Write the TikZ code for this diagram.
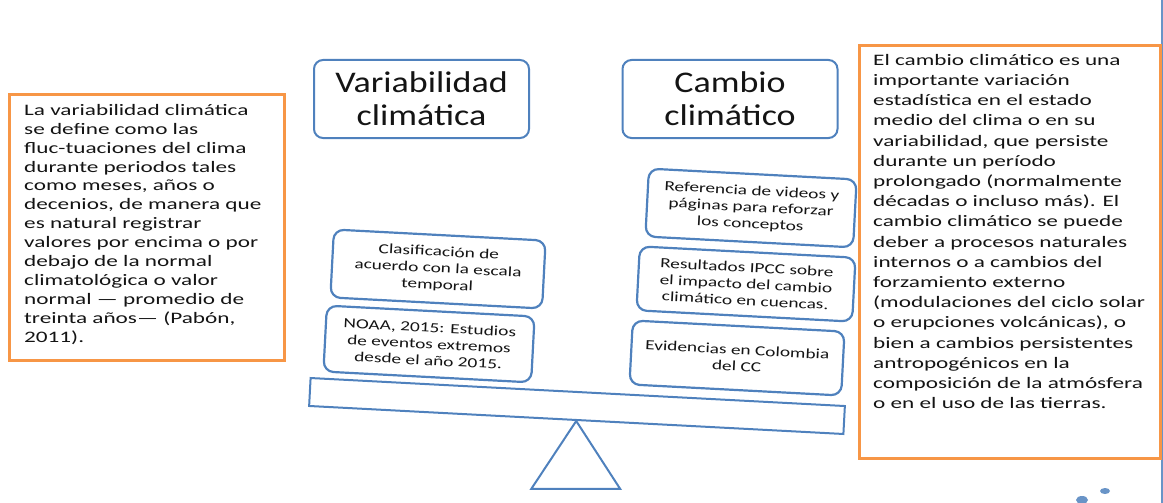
\documentclass[tikz,border=0pt]{standalone}
\usepackage{fontspec}
\setmainfont{Carlito}
\newfontfamily\titlefont[FakeStretch=1.2]{Carlito}
\newfontfamily\cardfont[FakeStretch=1.38]{Carlito}
\newfontfamily\notefont[FakeStretch=1.45]{Carlito}
\newfontfamily\leftnotefont[FakeStretch=1.45]{Carlito}
\definecolor{boxblue}{HTML}{4F81BD}
\definecolor{noteorange}{HTML}{F79646}
\definecolor{inktext}{HTML}{141414}

\begin{document}
\begin{tikzpicture}[x=1pt, y=-1pt,
    titlebox/.style={draw=boxblue, line width=2pt, rounded corners=9pt, minimum width=215pt, minimum height=78pt, align=center, text=inktext, font=\titlefont\fontsize{30}{33}\selectfont},
    card/.style={draw=boxblue, line width=2.2pt, rounded corners=10pt, rotate=-3, align=center, inner sep=0pt, text=inktext, font=\cardfont\fontsize{14}{16.5}\selectfont},
    notebox/.style={draw=noteorange, line width=3pt, inner sep=0pt},
    notetext/.style={anchor=north west, align=left, inner sep=0pt, text=inktext}]
    \useasboundingbox (0,0) rectangle (1163,503);

    % Cut-off shapes at the right edge
    \draw[boxblue!85, line width=2pt] (1162,0) -- (1162,503);
    \fill[boxblue!85] (1082,500) ellipse (6 and 4);
    \fill[boxblue!85] (1105,491) ellipse (5 and 3);

    % Titles
    \node[titlebox] (var) at (421.5,99) {Variabilidad\\climática};
    \node[titlebox] (cambio) at (730,99) {Cambio\\climático};

    % Balance
    \node[draw=boxblue, line width=2pt, rotate=-3, minimum width=535pt, minimum height=28pt] (beam) at (577,406) {};
    \draw[boxblue, line width=2pt] (beam.south) -- ++(-45,68) -- ++(89,0) -- cycle;

    % Left pan
    \node[card, minimum width=212pt, minimum height=68pt] (clasif) at (438,269) {Clasificación de\\acuerdo con la escala\\temporal};
    \node[card, minimum width=208pt, minimum height=66pt] (noaa) at (429,344) {NOAA, 2015: Estudios\\de eventos extremos\\desde el año 2015.};

    % Right pan
    \node[card, minimum width=208pt, minimum height=68pt] (refer) at (751,208) {Referencia de videos y\\páginas para reforzar\\los conceptos};
    \node[card, minimum width=216pt, minimum height=64pt] (ipcc) at (746,284) {Resultados IPCC sobre\\el impacto del cambio\\climático en cuencas.};
    \node[card, minimum width=212pt, minimum height=64pt] (evid) at (737,358) {Evidencias en Colombia\\del CC};

    % Definitions
    \node[notebox, minimum width=275pt, minimum height=265pt] (leftnote) at (146.5,227.5) {};
    \node[notetext, font=\leftnotefont\fontsize{16}{18.9}\selectfont] (lefttext) at (24,104) {La variabilidad climática\\se define como las\\fluc-tuaciones del clima\\durante periodos tales\\como meses, años o\\decenios, de manera que\\es natural registrar\\valores por encima o por\\debajo de la normal\\climatológica o valor\\normal — promedio de\\treinta años— (Pabón,\\2011).};
    \node[notebox, fill=white, minimum width=301pt, minimum height=412pt] (rightnote) at (1009.5,252) {};
    \node[notetext, font=\notefont\fontsize{16}{20.2}\selectfont] (righttext) at (873,54) {El cambio climático es una\\importante variación\\estadística en el estado\\medio del clima o en su\\variabilidad, que persiste\\durante un período\\prolongado (normalmente\\décadas o incluso más). El\\cambio climático se puede\\deber a procesos naturales\\internos o a cambios del\\forzamiento externo\\(modulaciones del ciclo solar\\o erupciones volcánicas), o\\bien a cambios persistentes\\antropogénicos en la\\composición de la atmósfera\\o en el uso de las tierras.};
\end{tikzpicture}
\end{document}
